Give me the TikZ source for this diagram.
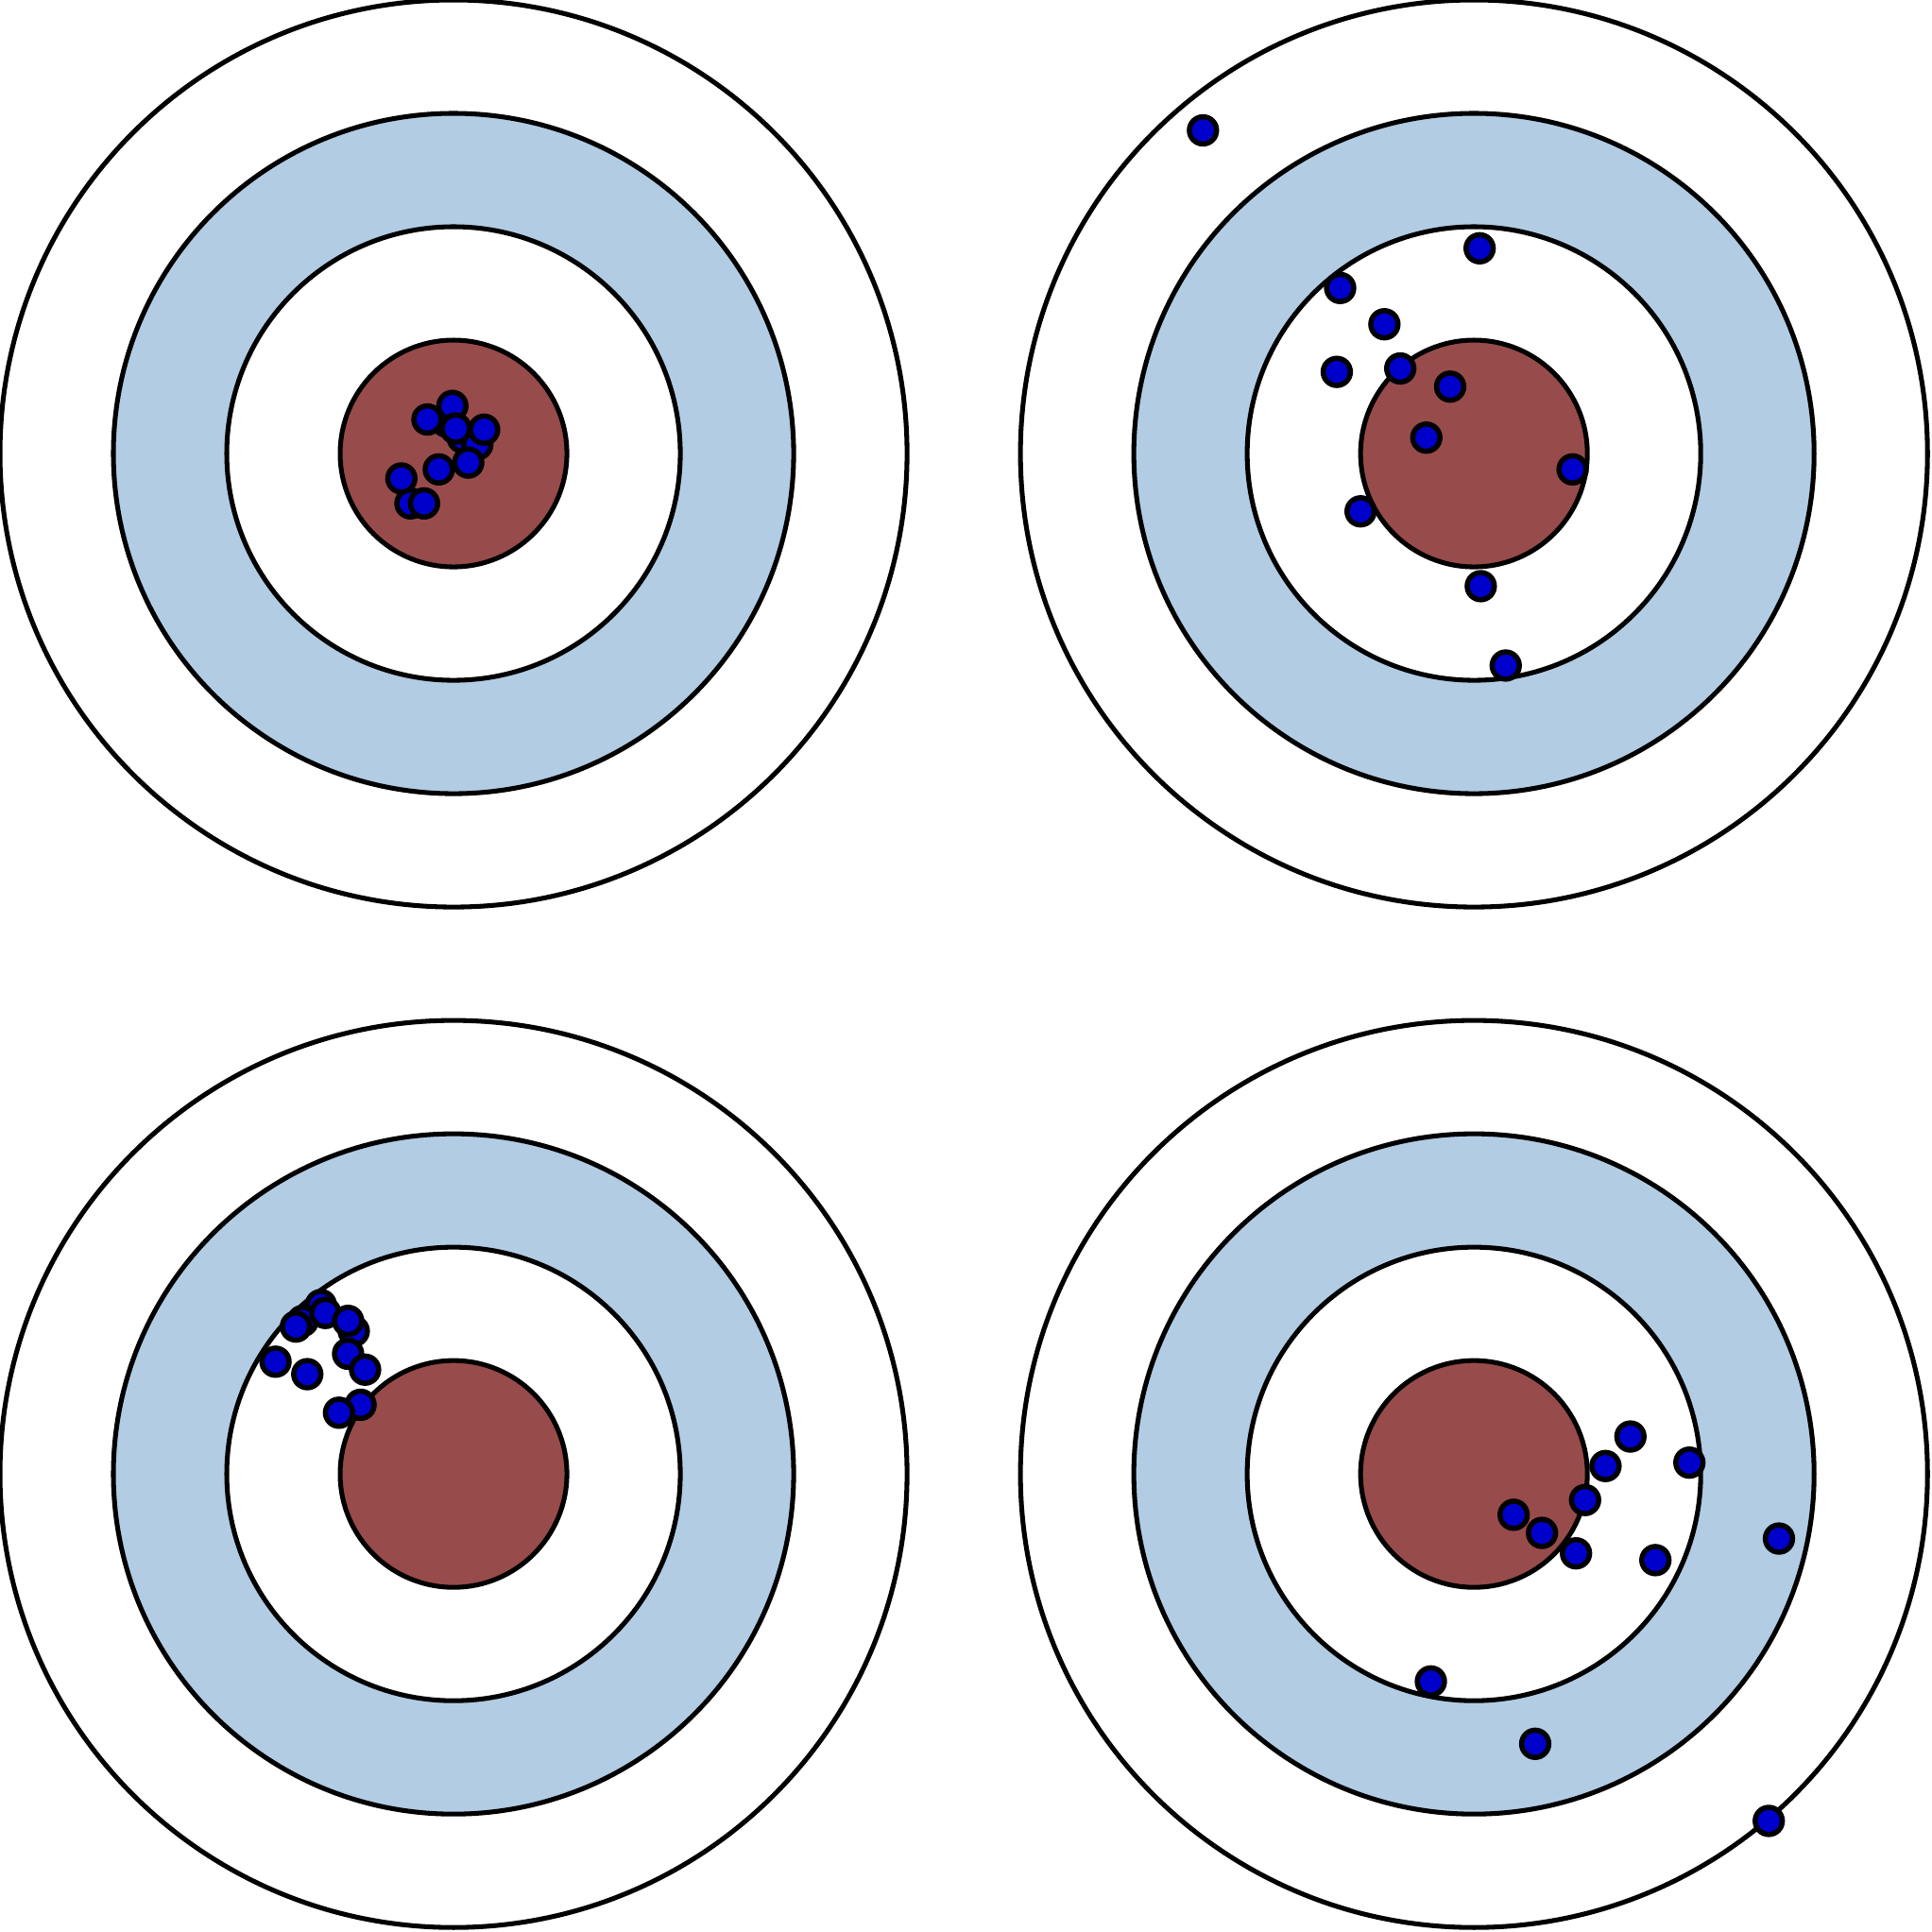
\documentclass[tikz,border=0pt]{standalone}
\usepackage{tikz}
\definecolor{bullred}{RGB}{152,75,75}
\definecolor{ringblue}{RGB}{178,204,228}
\definecolor{shotblue}{RGB}{0,0,204}

\begin{document}
\begin{tikzpicture}[scale=1,
    ring/.style={draw=black, line width=1.2pt},
    shot/.style={draw=black, line width=1.3pt, fill=shotblue}]
  \useasboundingbox (-4,-13.04) rectangle (13.04,4);

  % 的 (4つ)
  \foreach \cx/\cy in {0/0, 9/0, 0/-9, 9/-9} {
    \draw[ring, fill=white] (\cx,\cy) circle (4);
    \draw[ring, fill=ringblue] (\cx,\cy) circle (3);
    \draw[ring, fill=white] (\cx,\cy) circle (2);
    \draw[ring, fill=bullred] (\cx,\cy) circle (1);
  }

  % 左上: 中心に集中
  \foreach \x/\y in {-0.06/0.28, 0.08/0.14, 0.21/0.08, -0.38/-0.44,
                     0.27/0.21, -0.01/0.42, -0.23/0.30, 0.02/0.22,
                     0.13/-0.08, -0.13/-0.14, -0.46/-0.22, -0.26/-0.44}
    \draw[shot] (\x,\y) circle (0.12);

  % 右上: ばらつき大
  \foreach \x/\y in {-2.39/2.85, 0.05/1.81, -1.18/1.46, -0.79/1.14,
                     -1.21/0.72, -0.65/0.75, -0.21/0.59, -0.42/0.14,
                     0.87/-0.14, -1.00/-0.51, 0.06/-1.17, 0.28/-1.87}
    \draw[shot] (9+\x,\y) circle (0.12);

  % 左下: 集中しているが偏り
  \foreach \x/\y in {-1.17/1.49, -1.33/1.35, -1.13/1.42, -1.39/1.30,
                     -0.88/1.26, -0.93/1.35, -0.93/1.06, -0.78/0.92,
                     -1.57/0.99, -1.29/0.88, -0.82/0.61, -1.01/0.54}
    \draw[shot] (\x,-9+\y) circle (0.12);

  % 右下: ばらつき大かつ偏り
  \foreach \x/\y in {1.38/0.33, 1.16/0.07, 1.90/0.10, 0.98/-0.23,
                     0.35/-0.36, 0.60/-0.52, 0.90/-0.70, 1.60/-0.76,
                     2.69/-0.57, -0.38/-1.83, 0.54/-2.38, 2.60/-3.06}
    \draw[shot] (9+\x,-9+\y) circle (0.12);
\end{tikzpicture}
\end{document}
